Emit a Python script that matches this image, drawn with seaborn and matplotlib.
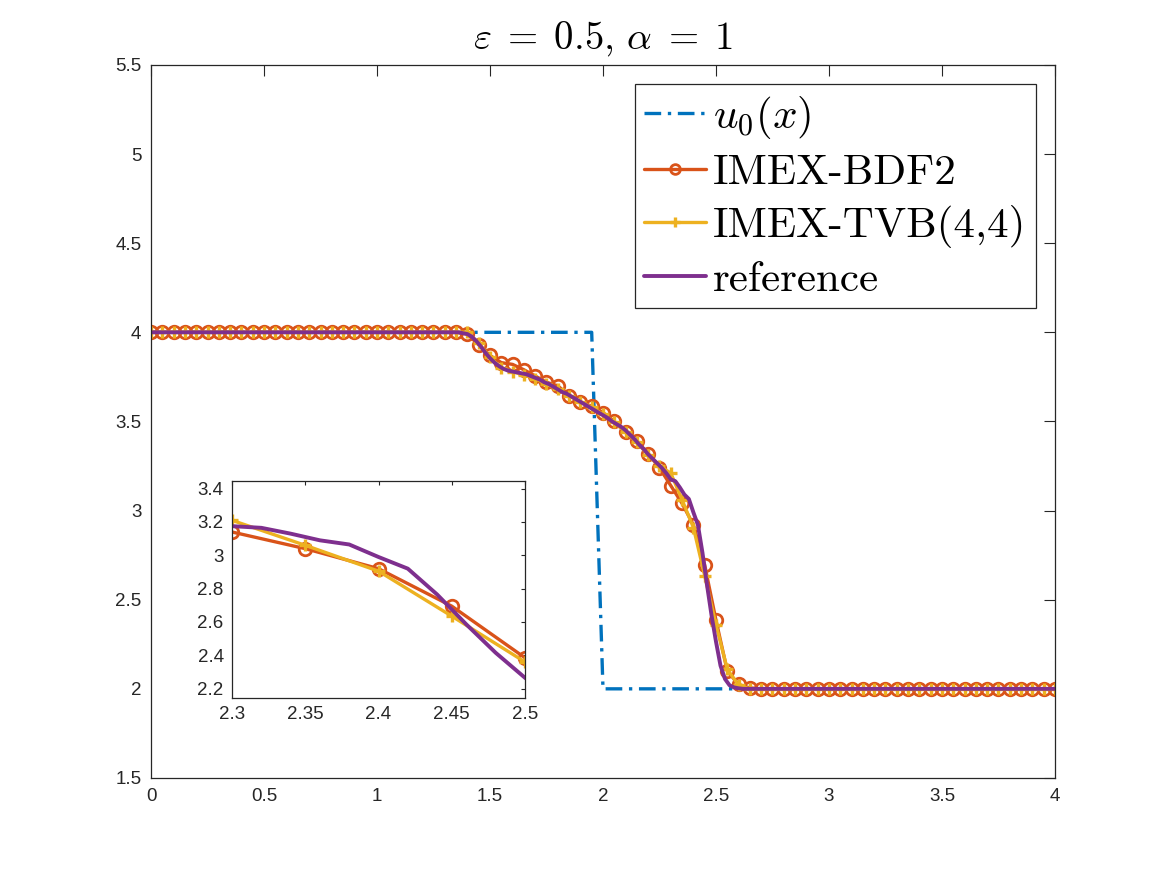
import matplotlib
matplotlib.use('Agg')
import matplotlib.pyplot as plt
import seaborn as sns
from matplotlib.ticker import FormatStrFormatter

# grid used by the two IMEX schemes (dx = 0.05)
x_num = [0.00, 0.05, 0.10, 0.15, 0.20, 0.25, 0.30, 0.35, 0.40, 0.45,
         0.50, 0.55, 0.60, 0.65, 0.70, 0.75, 0.80, 0.85, 0.90, 0.95,
         1.00, 1.05, 1.10, 1.15, 1.20, 1.25, 1.30, 1.35, 1.40, 1.45,
         1.50, 1.55, 1.60, 1.65, 1.70, 1.75, 1.80, 1.85, 1.90, 1.95,
         2.00, 2.05, 2.10, 2.15, 2.20, 2.25, 2.30, 2.35, 2.40, 2.45,
         2.50, 2.55, 2.60, 2.65, 2.70, 2.75, 2.80, 2.85, 2.90, 2.95,
         3.00, 3.05, 3.10, 3.15, 3.20, 3.25, 3.30, 3.35, 3.40, 3.45,
         3.50, 3.55, 3.60, 3.65, 3.70, 3.75, 3.80, 3.85, 3.90, 3.95,
         4.00]

u_bdf2 = [4.0, 4.0, 4.0, 4.0, 4.0, 4.0, 4.0, 4.0, 4.0, 4.0,
          4.0, 4.0, 4.0, 4.0, 4.0, 4.0, 4.0, 4.0, 4.0, 4.0,
          4.0, 4.0, 4.0, 4.0, 4.0, 4.0, 4.0, 4.0, 3.99, 3.93,
          3.87, 3.83, 3.82, 3.79, 3.755, 3.72, 3.70, 3.645, 3.61, 3.585,
          3.55, 3.50, 3.44, 3.39, 3.32, 3.24, 3.14, 3.04, 2.92, 2.695,
          2.385, 2.10, 2.025, 2.005, 2.0, 2.0, 2.0, 2.0, 2.0, 2.0,
          2.0, 2.0, 2.0, 2.0, 2.0, 2.0, 2.0, 2.0, 2.0, 2.0,
          2.0, 2.0, 2.0, 2.0, 2.0, 2.0, 2.0, 2.0, 2.0, 2.0,
          2.0]

u_tvb = [4.0, 4.0, 4.0, 4.0, 4.0, 4.0, 4.0, 4.0, 4.0, 4.0,
         4.0, 4.0, 4.0, 4.0, 4.0, 4.0, 4.0, 4.0, 4.0, 4.0,
         4.0, 4.0, 4.0, 4.0, 4.0, 4.0, 4.0, 4.0, 4.0, 3.94,
         3.86, 3.80, 3.78, 3.76, 3.74, 3.71, 3.68, 3.645, 3.61, 3.58,
         3.54, 3.495, 3.44, 3.385, 3.31, 3.25, 3.21, 3.06, 2.905, 2.635,
         2.36, 2.11, 2.02, 2.0, 2.0, 2.0, 2.0, 2.0, 2.0, 2.0,
         2.0, 2.0, 2.0, 2.0, 2.0, 2.0, 2.0, 2.0, 2.0, 2.0,
         2.0, 2.0, 2.0, 2.0, 2.0, 2.0, 2.0, 2.0, 2.0, 2.0,
         2.0]

# initial data (step)
x_init = [0.0, 1.95, 2.0, 4.0]
u_init = [4.0, 4.0, 2.0, 2.0]

# fine reference solution
x_ref = [0.0, 1.30, 1.32, 1.34, 1.36, 1.38, 1.40, 1.42, 1.44, 1.46, 1.48,
         1.50, 1.52, 1.54, 1.56, 1.58, 1.60, 1.62, 1.64, 1.66, 1.68,
         1.70, 1.72, 1.74, 1.76, 1.78, 1.80, 1.82, 1.84, 1.86, 1.88,
         1.90, 1.92, 1.94, 1.96, 1.98, 2.00, 2.02, 2.04, 2.06, 2.08,
         2.10, 2.12, 2.14, 2.16, 2.18, 2.20, 2.22, 2.24, 2.26, 2.28,
         2.30, 2.32, 2.34, 2.36, 2.38, 2.40, 2.42, 2.44, 2.46, 2.48,
         2.50, 2.52, 2.54, 2.56, 2.58, 2.60, 2.62, 4.0]
u_ref = [4.0, 4.0, 4.0, 4.0, 4.0, 3.995, 3.99, 3.975, 3.95, 3.92, 3.885,
         3.855, 3.83, 3.81, 3.795, 3.785, 3.78, 3.775, 3.77, 3.765, 3.755,
         3.745, 3.735, 3.72, 3.71, 3.695, 3.68, 3.665, 3.655, 3.64, 3.625,
         3.61, 3.595, 3.58, 3.565, 3.55, 3.535, 3.52, 3.50, 3.485, 3.47,
         3.45, 3.425, 3.40, 3.37, 3.345, 3.315, 3.29, 3.265, 3.24, 3.21,
         3.175, 3.165, 3.13, 3.09, 3.065, 2.99, 2.92, 2.765, 2.585, 2.415,
         2.265, 2.13, 2.055, 2.02, 2.008, 2.003, 2.0, 2.0]

blue = '#0072BD'
orange = '#D95319'
yellow = '#EDB120'
purple = '#7E2F8E'
axcol = '#262626'

sns.set_style("white")
plt.rcParams['font.family'] = ['Liberation Sans', 'DejaVu Sans']
plt.rcParams['mathtext.fontset'] = 'cm'
plt.rcParams['axes.unicode_minus'] = False

fig = plt.figure(figsize=(11.67, 8.75), dpi=100)
ax = fig.add_axes([0.1294, 0.1109, 0.7746, 0.8149])


def draw(a, ms):
    sns.lineplot(x=x_init, y=u_init, ax=a, color=blue, lw=2.4, sort=False,
                 estimator=None, dashes=False, label='$u_0(x)$')
    a.lines[-1].set_dashes([5, 2, 1, 2])
    sns.lineplot(x=x_num, y=u_bdf2, ax=a, color=orange, lw=2.4, marker='o',
                 markersize=ms, markerfacecolor='none', markeredgecolor=orange,
                 markeredgewidth=2, sort=False, estimator=None, label='IMEX-BDF2')
    sns.lineplot(x=x_num, y=u_tvb, ax=a, color=yellow, lw=2.4, marker='+',
                 markersize=ms, markeredgecolor=yellow, markeredgewidth=2.4,
                 sort=False, estimator=None, label='IMEX-TVB(4,4)')
    sns.lineplot(x=x_ref, y=u_ref, ax=a, color=purple, lw=2.8, sort=False,
                 estimator=None, label='reference')


draw(ax, 9)
ax.set_xlim(0, 4)
ax.set_ylim(1.5, 5.5)
ax.set_xticks([0, 0.5, 1, 1.5, 2, 2.5, 3, 3.5, 4])
ax.set_yticks([1.5, 2, 2.5, 3, 3.5, 4, 4.5, 5, 5.5])
ax.xaxis.set_major_formatter(FormatStrFormatter('%g'))
ax.yaxis.set_major_formatter(FormatStrFormatter('%g'))
ax.tick_params(direction='in', length=8, width=0.8, colors=axcol, labelsize=13.5,
               top=True, right=True, pad=7)
for s in ax.spines.values():
    s.set_color(axcol)
    s.set_linewidth(0.9)
ax.set_xlabel('')
ax.set_ylabel('')
ax.set_title(r'$\varepsilon \;=\; 0.5,\, \alpha \;=\; 1$', fontsize=28, pad=12,
             color='black')

leg = ax.legend(loc='upper right', prop={'family': 'cmr10', 'size': 31},
                frameon=True, fancybox=False, edgecolor=axcol, framealpha=1,
                handlelength=1.45, handletextpad=0.15, labelspacing=0.3,
                borderaxespad=0.45, borderpad=0.22, labelcolor='black')
leg.get_frame().set_linewidth(0.9)
for h in leg.legend_handles:
    h.set_markersize(7)

# zoomed inset
axin = fig.add_axes([0.1988, 0.2023, 0.2511, 0.248])
draw(axin, 9)
axin.get_legend().remove()
axin.set_xlim(2.3, 2.5)
axin.set_ylim(2.144, 3.446)
axin.set_xticks([2.3, 2.35, 2.4, 2.45, 2.5])
axin.set_yticks([2.2, 2.4, 2.6, 2.8, 3.0, 3.2, 3.4])
axin.xaxis.set_major_formatter(FormatStrFormatter('%g'))
axin.yaxis.set_major_formatter(FormatStrFormatter('%g'))
axin.tick_params(direction='in', length=3, width=0.8, colors=axcol, labelsize=13.5,
                 top=True, right=True, pad=6)
for s in axin.spines.values():
    s.set_color(axcol)
    s.set_linewidth(0.9)
axin.set_xlabel('')
axin.set_ylabel('')

fig.savefig('out.png', dpi=100)
